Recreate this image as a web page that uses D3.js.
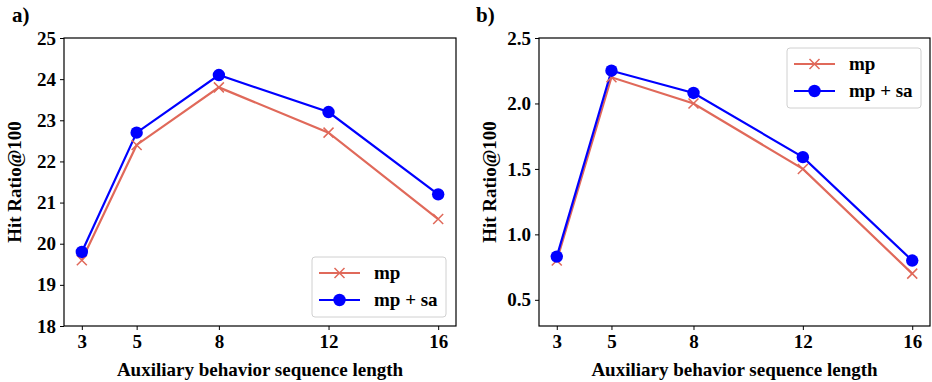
<!DOCTYPE html>
<html>
<head>
<meta charset="utf-8">
<script src="https://cdn.jsdelivr.net/npm/d3@7"></script>
<style>
  body { margin: 0; background: #fff; }
  svg { display: block; }
</style>
</head>
<body>
<svg id="chart" width="932" height="382"></svg>
<script>
const lengths = [3, 5, 8, 12, 16];

// panel a
const mpA = [19.6, 22.4, 23.8, 22.7, 20.6];
const mpSaA = [19.8, 22.7, 24.1, 23.2, 21.2];
const yTicksA = [18, 19, 20, 21, 22, 23, 24, 25];

// panel b
const mpB = [0.8, 2.2, 2.0, 1.5, 0.7];
const mpSaB = [0.83, 2.25, 2.08, 1.59, 0.8];
const yTicksB = [0.5, 1.0, 1.5, 2.0, 2.5];

const seriesNames = ["mp", "mp + sa"];
const colors = { mp: "#e0695a", sa: "#0000ff" };
const FONT = "'Liberation Serif'";

const svg = d3.select("#chart");

function label(sel, size) {
  return sel.style("font-family", FONT)
    .style("font-weight", "bold")
    .style("font-size", size + "px")
    .attr("fill", "#000");
}

function panel(opts) {
  const { left, right, top, bottom, yDomain, yTicks, yFmt, mp, sa, tag, legendPos } = opts;
  const x = d3.scaleLinear().domain([3 - 0.65, 16 + 0.65]).range([left, right]);
  const y = d3.scaleLinear().domain(yDomain).range([bottom, top]);
  const g = svg.append("g");

  // axes
  const xAxis = g.append("g")
      .attr("transform", `translate(0,${bottom})`)
      .call(d3.axisBottom(x).tickValues(lengths).tickSize(4).tickPadding(5));
  const yAxis = g.append("g")
      .attr("transform", `translate(${left},0)`)
      .call(d3.axisLeft(y).tickValues(yTicks).tickFormat(yFmt).tickSize(4).tickPadding(4));
  [xAxis, yAxis].forEach(a => {
    a.select(".domain").remove();
    a.selectAll("line").attr("stroke", "#000").attr("stroke-width", 1);
    label(a.selectAll("text"), 19);
  });

  g.append("rect")
      .attr("x", left).attr("y", top)
      .attr("width", right - left).attr("height", bottom - top)
      .attr("fill", "none").attr("stroke", "#000").attr("stroke-width", 1.2);

  const line = d3.line().x((d, i) => x(lengths[i])).y(d => y(d));

  g.append("path").datum(mp)
      .attr("d", line).attr("fill", "none")
      .attr("stroke", colors.mp).attr("stroke-width", 2.2);
  g.append("path").datum(sa)
      .attr("d", line).attr("fill", "none")
      .attr("stroke", colors.sa).attr("stroke-width", 2.2);

  const xMark = (cx, cy, s) => `M${cx - s},${cy - s}L${cx + s},${cy + s}M${cx - s},${cy + s}L${cx + s},${cy - s}`;

  g.append("g").selectAll("path")
    .data(mp).join("path")
      .attr("d", (d, i) => xMark(x(lengths[i]), y(d), 5))
      .attr("stroke", colors.mp).attr("stroke-width", 1.5);
  g.append("g").selectAll("circle")
    .data(sa).join("circle")
      .attr("cx", (d, i) => x(lengths[i]))
      .attr("cy", d => y(d))
      .attr("r", 6.2)
      .attr("fill", colors.sa);

  // labels
  label(g.append("text"), 19)
      .attr("x", (left + right) / 2).attr("y", 376)
      .attr("text-anchor", "middle")
      .text("Auxiliary behavior sequence length");
  label(g.append("text"), 19)
      .attr("transform", `translate(${left - 43},${(top + bottom) / 2}) rotate(-90)`)
      .attr("text-anchor", "middle")
      .text("Hit Ratio@100");
  label(g.append("text"), 21)
      .attr("x", tag.x).attr("y", 22)
      .text(tag.t);

  // legend
  const lg = g.append("g").attr("transform", `translate(${legendPos[0]},${legendPos[1]})`);
  lg.append("rect")
      .attr("width", 134).attr("height", 60).attr("rx", 3)
      .attr("fill", "#fff").attr("stroke", "#d0d0d0").attr("stroke-width", 1);
  seriesNames.forEach((name, i) => {
    const ry = 16 + i * 27;
    const c = i === 0 ? colors.mp : colors.sa;
    lg.append("line")
        .attr("x1", 7).attr("x2", 48).attr("y1", ry).attr("y2", ry)
        .attr("stroke", c).attr("stroke-width", 2.2);
    if (i === 0) {
      lg.append("path").attr("d", xMark(27.5, ry, 5))
        .attr("stroke", c).attr("stroke-width", 1.5);
    } else {
      lg.append("circle").attr("cx", 27.5).attr("cy", ry).attr("r", 6.2).attr("fill", c);
    }
    label(lg.append("text"), 19)
        .attr("x", 62).attr("y", ry + 6)
        .text(name);
  });
}

panel({
  left: 64, right: 456, top: 38, bottom: 326,
  yDomain: [18, 25], yTicks: yTicksA, yFmt: d3.format("d"),
  mp: mpA, sa: mpSaA,
  tag: { x: 12, t: "a)" },
  legendPos: [312, 257]
});

panel({
  left: 539, right: 930, top: 38, bottom: 326,
  yDomain: [0.3, 2.5], yTicks: yTicksB, yFmt: d3.format(".1f"),
  mp: mpB, sa: mpSaB,
  tag: { x: 476, t: "b)" },
  legendPos: [787, 48]
});
</script>
</body>
</html>
